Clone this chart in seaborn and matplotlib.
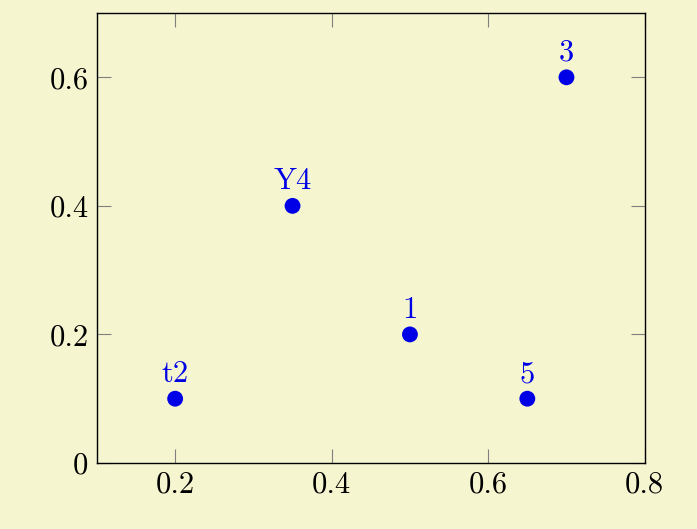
import matplotlib
matplotlib.use('Agg')

import matplotlib.pyplot as plt
import seaborn as sns
import pandas as pd
from matplotlib.ticker import FuncFormatter, MultipleLocator

# data
xs = [0.5, 0.2, 0.7, 0.35, 0.65]
ys = [0.2, 0.1, 0.6, 0.4, 0.1]
labels = ['1', 't2', '3', 'Y4', '5']

df = pd.DataFrame({'x': xs, 'y': ys, 'label': labels})

sns.set_style('ticks')
plt.rcParams['font.family'] = ['cmr10', 'DejaVu Serif']
plt.rcParams['axes.formatter.use_mathtext'] = True
plt.rcParams['mathtext.fontset'] = 'cm'

bg = '#F5F5D0'
fig = plt.figure(figsize=(6.97, 5.29), dpi=100, facecolor=bg)
ax = fig.add_axes([0.139, 0.1248, 0.786, 0.8506])
ax.set_facecolor(bg)

sns.scatterplot(data=df, x='x', y='y', color='#0000E6', s=130, edgecolor='none',
                ax=ax, zorder=3, clip_on=False)

for _, row in df.iterrows():
    ax.annotate(row['label'], (row['x'], row['y']), xytext=(0, 7.5),
                textcoords='offset points', ha='center', va='bottom',
                color='#0000E6', fontsize=22)

ax.set_xlim(0.1, 0.8)
ax.set_ylim(0, 0.7)
ax.xaxis.set_major_locator(MultipleLocator(0.2))
ax.yaxis.set_major_locator(MultipleLocator(0.2))
fmt = FuncFormatter(lambda v, p: '0' if abs(v) < 1e-9 else f'{v:.1f}')
ax.xaxis.set_major_formatter(fmt)
ax.yaxis.set_major_formatter(fmt)
ax.set_xlabel('')
ax.set_ylabel('')

ax.tick_params(direction='in', length=10, width=0.8, color='#808080',
               top=True, right=True, labelsize=22, labelcolor='black', pad=6)
for sp in ax.spines.values():
    sp.set_visible(True)
    sp.set_color('black')
    sp.set_linewidth(1.0)

fig.savefig('out.png', dpi=100, facecolor=bg)
